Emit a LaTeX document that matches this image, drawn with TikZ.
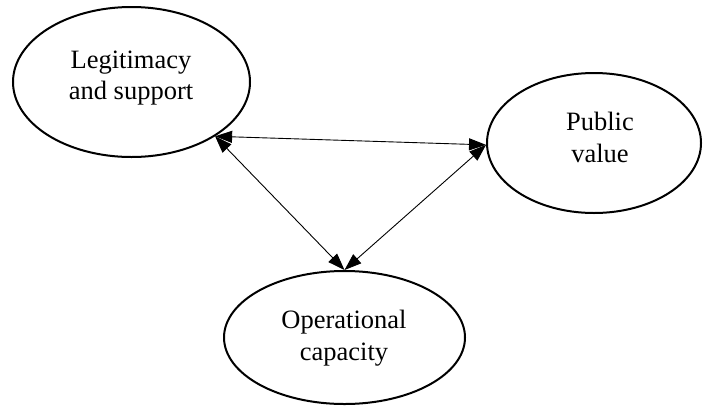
\documentclass[tikz,border=0pt]{standalone}
\usepackage{fontspec}
\setmainfont{Liberation Serif}
\usetikzlibrary{shapes.geometric,arrows.meta}
\begin{document}
\begin{tikzpicture}[x=1pt,y=-1pt,
  oval/.style={ellipse,draw,line width=2pt,inner sep=0pt},
  lbl/.style={inner sep=0pt,anchor=base,font=\fontsize{26.5}{31}\selectfont},
  link/.style={line width=0.9pt,{Triangle[length=17pt,width=12pt]}-{Triangle[length=17pt,width=12pt]}}]
\useasboundingbox (0,0) rectangle (703,407);
\node[oval,minimum width=237pt,minimum height=150pt] (L) at (131.5,82) {};
\node[oval,minimum width=214pt,minimum height=140pt] (P) at (594,143) {};
\node[oval,minimum width=241pt,minimum height=133pt] (O) at (344.5,337.5) {};
\node[lbl] (L1) at (131,68) {Legitimacy};
\node[lbl] (L2) at (131,99) {and support};
\node[lbl] (P1) at (600,130) {Public};
\node[lbl] (P2) at (600,162) {value};
\node[lbl] (O1) at (344,328) {Operational};
\node[lbl] (O2) at (344,360) {capacity};
\draw[link] (L.-33) -- (P.181);
\draw[link] (L.-33) -- (O.90);
\draw[link] (P.181) -- (O.90);
\end{tikzpicture}
\end{document}
